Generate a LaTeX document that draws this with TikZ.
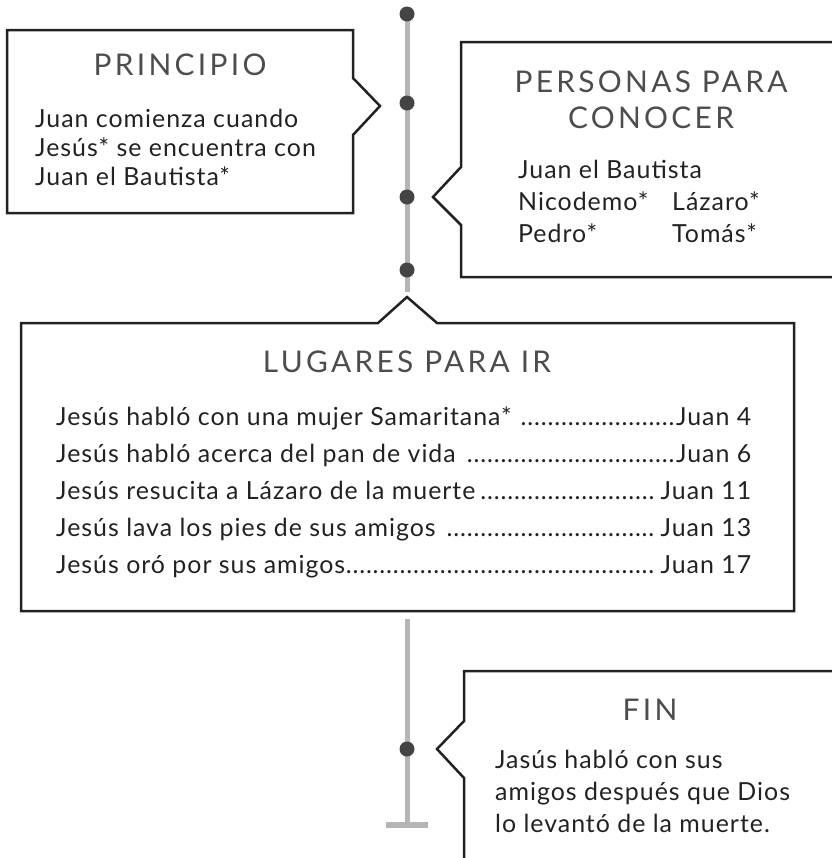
\documentclass[tikz,border=0pt]{standalone}
\usepackage{fontspec}
\setmainfont{Lato}
\usetikzlibrary{positioning}
\definecolor{spinegray}{HTML}{B5B5B5}
\definecolor{dotgray}{HTML}{444444}
\definecolor{titlegray}{HTML}{4D4D4D}
\definecolor{inkdark}{HTML}{222222}
\newcommand{\leaderdots}{\leaders\hbox to 0.27em{\hss.\hss}\hfill}
\newcommand{\placeline}[2]{\makebox[695bp][s]{#1\leaderdots#2}}

\begin{document}
\begin{tikzpicture}[x=1bp, y=-1bp,
    spine/.style={line width=5bp, draw=spinegray},
    marker/.style={circle, fill=dotgray, inner sep=0pt, minimum size=15bp},
    frame/.style={line width=2.5bp, draw=inkdark, line join=miter},
    heading/.style={font=\fontsize{30}{36}\selectfont\addfontfeatures{LetterSpace=11},
    text=titlegray, align=center, inner sep=0pt, anchor=base},
    body/.style={font=\fontsize{25}{29}\selectfont\addfontfeatures{LetterSpace=4},
    text=inkdark, align=left, inner sep=0pt, anchor=base west},
]
\useasboundingbox (0,0) rectangle (832,858);
\clip (0,0) rectangle (832,858);

\coordinate (top) at (407,14);
\coordinate (gaptop) at (407,292);
\coordinate (gapbottom) at (407,619);
\coordinate (foot) at (407,825);
\draw[spine] (top) -- (gaptop);
\draw[spine] (gapbottom) -- (foot);
\draw[spine, line width=6bp] ([xshift=-21bp]foot) -- ([xshift=21bp]foot);

\node[marker] (dot1) at (top) {};
\node[marker] (dot2) at (407,103) {};
\node[marker] (dot3) at (407,197) {};
\node[marker] (dot4) at (407,270) {};
\node[marker] (dot5) at (407,749) {};

% callout frames
\draw[frame] (7,30) -- (353,30) -- (353,78) -- (380,106) -- (353,135)
    -- (353,213) -- (7,213) -- cycle;
\draw[frame] (461,42) -- (900,42) -- (900,277) -- (461,277) -- (461,225)
    -- (433,197) -- (461,167) -- cycle;
\draw[frame] (21,323) -- (378,323) -- (407,297) -- (437,323) -- (794,323)
    -- (794,611) -- (21,611) -- cycle;
\draw[frame] (464,671) -- (900,671) -- (900,900) -- (464,900) -- (464,778)
    -- (437,749) -- (464,721) -- cycle;

\node[heading] (principio) at (180,75) {PRINCIPIO};
\node[body] (principiotext) at (35,185)
    {Juan comienza cuando\\Jesús* se encuentra con\\Juan el Bautista*};

\node[heading] (personas) at (651,128) {PERSONAS PARA\\CONOCER};
\node[body, font=\fontsize{25}{32}\selectfont\addfontfeatures{LetterSpace=4}]
    (personastext) at (518,242)
    {Juan el Bautista\\\makebox[154bp][l]{Nicodemo*}Lázaro*\\
    \makebox[154bp][l]{Pedro*}Tomás*};

\node[heading] (lugares) at (407,372) {LUGARES PARA IR};
\node[body, font=\fontsize{25}{37}\selectfont\addfontfeatures{LetterSpace=4}]
    (lugarestext) at (56,573)
    {\placeline{Jesús habló con una mujer Samaritana* }{Juan 4}\\
    \placeline{Jesús habló acerca del pan de vida }{Juan 6}\\
    \placeline{Jesús resucita a Lázaro de la muerte}{Juan 11}\\
    \placeline{Jesús lava los pies de sus amigos }{Juan 13}\\
    \placeline{Jesús oró por sus amigos}{Juan 17}};

\node[heading] (fin) at (650,720) {FIN};
\node[body, font=\fontsize{25}{32}\selectfont\addfontfeatures{LetterSpace=4}]
    (fintext) at (495,832)
    {Jasús habló con sus\\amigos después que Dios\\lo levantó de la muerte.};
\end{tikzpicture}
\end{document}
